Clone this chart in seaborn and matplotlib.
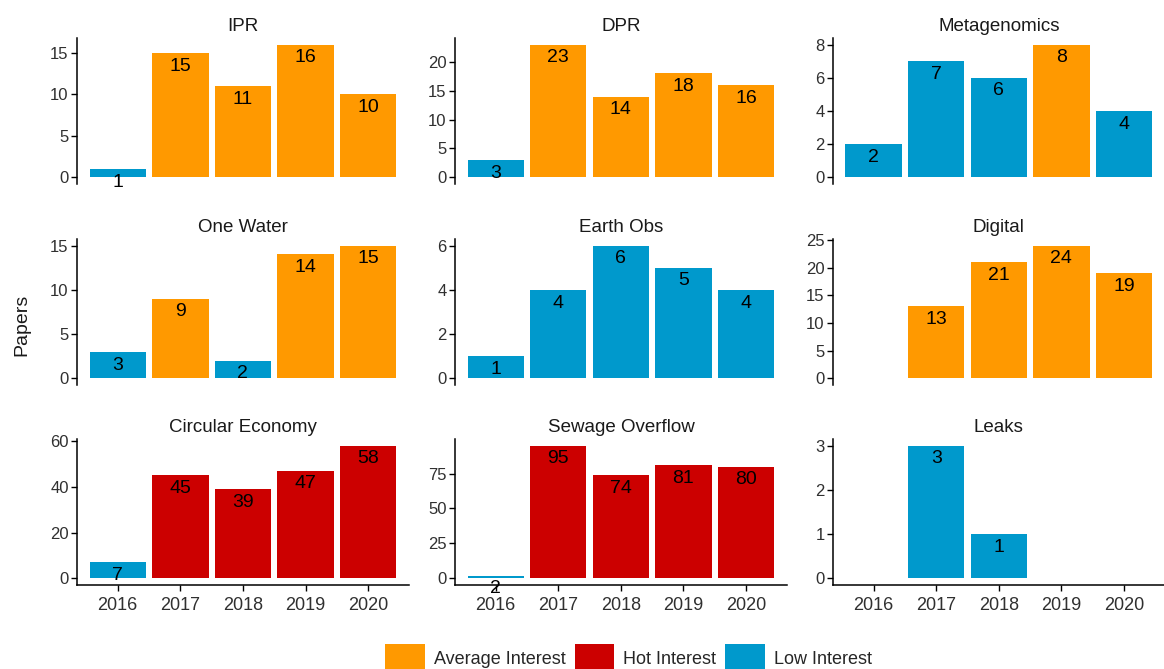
import numpy as np
import pandas as pd
import matplotlib
matplotlib.use('Agg')
import matplotlib.pyplot as plt
from matplotlib.patches import Patch
import seaborn as sns

# Chart data
years = ['2016', '2017', '2018', '2019', '2020']
topics = ['IPR', 'DPR', 'Metagenomics', 'One Water', 'Earth Obs', 'Digital',
          'Circular Economy', 'Sewage Overflow', 'Leaks']
papers = [
    [1, 15, 11, 16, 10],
    [3, 23, 14, 18, 16],
    [2, 7, 6, 8, 4],
    [3, 9, 2, 14, 15],
    [1, 4, 6, 5, 4],
    [np.nan, 13, 21, 24, 19],
    [7, 45, 39, 47, 58],
    [2, 95, 74, 81, 80],
    [np.nan, 3, 1, np.nan, np.nan],
]
interest = [
    ['Low', 'Avg', 'Avg', 'Avg', 'Avg'],
    ['Low', 'Avg', 'Avg', 'Avg', 'Avg'],
    ['Low', 'Low', 'Low', 'Avg', 'Low'],
    ['Low', 'Avg', 'Low', 'Avg', 'Avg'],
    ['Low', 'Low', 'Low', 'Low', 'Low'],
    [None, 'Avg', 'Avg', 'Avg', 'Avg'],
    ['Low', 'Hot', 'Hot', 'Hot', 'Hot'],
    ['Low', 'Hot', 'Hot', 'Hot', 'Hot'],
    [None, 'Low', 'Low', None, None],
]
yticks = [[0, 5, 10, 15], [0, 5, 10, 15, 20], [0, 2, 4, 6, 8], [0, 5, 10, 15],
          [0, 2, 4, 6], [0, 5, 10, 15, 20, 25], [0, 20, 40, 60], [0, 25, 50, 75],
          [0, 1, 2, 3]]
levels = ['Average Interest', 'Hot Interest', 'Low Interest']
short = {'Avg': 'Average Interest', 'Hot': 'Hot Interest', 'Low': 'Low Interest'}
colors = {'Average Interest': '#FF9900', 'Hot Interest': '#CC0000', 'Low Interest': '#0099CC'}

rows = []
for t, vals, ints in zip(topics, papers, interest):
    for y, v, i in zip(years, vals, ints):
        if i is not None:
            rows.append({'Topic': t, 'Year': y, 'Papers': v, 'Interest': short[i]})
df = pd.DataFrame(rows)

sns.set_style('ticks')
plt.rcParams['font.family'] = ['Liberation Sans', 'DejaVu Sans']

fig = plt.figure(figsize=(11.64, 6.69), dpi=100)
lefts = [0.0662, 0.3909, 0.7156]
bottoms = [0.725, 0.4245, 0.1256]
w, h = 0.285, 0.2183

for k, t in enumerate(topics):
    r, c = divmod(k, 3)
    ax = fig.add_axes([lefts[c], bottoms[r], w, h])
    sub = df[df['Topic'] == t]
    sns.barplot(data=sub, x='Year', y='Papers', hue='Interest', order=years,
                hue_order=levels, palette=colors, dodge=False, width=0.9,
                saturation=1, linewidth=0, legend=False, ax=ax)
    # value labels just under the bar tops, clipped to the panel like ggplot
    for _, row in sub.iterrows():
        txt = ax.annotate(f"{int(row['Papers'])}", (years.index(row['Year']), row['Papers']),
                          xytext=(0, -9.5), textcoords='offset points',
                          ha='center', va='center', fontsize=14, color='black')
        txt.set_clip_on(True)
    top = sub['Papers'].max()
    ax.set_ylim(-0.05 * top, 1.05 * top)
    ax.set_xlim(-0.65, 4.65)
    ax.set_yticks(yticks[k])
    ax.set_xlabel('')
    ax.set_ylabel('')
    ax.set_title(t, fontsize=13.5, pad=5, color='#1a1a1a')
    sns.despine(ax=ax)
    for s in ['left', 'bottom']:
        ax.spines[s].set_linewidth(1.1)
        ax.spines[s].set_color('black')
    ax.tick_params(axis='y', length=4, width=1, colors='black', labelsize=12,
                   labelcolor='#303030', pad=2)
    if r < 2:
        ax.spines['bottom'].set_visible(False)
        ax.tick_params(axis='x', bottom=False, labelbottom=False)
    else:
        ax.tick_params(axis='x', length=4, width=1, colors='black', labelsize=13,
                       labelcolor='#303030', pad=5)

fig.text(0.019, 1 - 325 / 669, 'Papers', rotation=90, ha='center', va='center',
         fontsize=14, color='#1a1a1a')

handles = [Patch(facecolor=colors[l], edgecolor='none', label=l) for l in levels]
fig.legend(handles=handles, loc='center', bbox_to_anchor=(0.54, 0.016), ncol=3,
           frameon=False, fontsize=13, handlelength=2.2, handleheight=2.1,
           handletextpad=0.5, columnspacing=0.5)

fig.savefig('out.png', dpi=100)
